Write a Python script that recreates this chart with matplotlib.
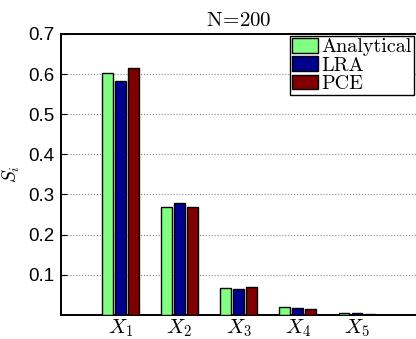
import numpy as np
from matplotlib import pyplot as plt

# Sobol' index estimates per input variable
variables = [r'$X_1$', r'$X_2$', r'$X_3$', r'$X_4$', r'$X_5$']
analytical = [0.602, 0.268, 0.066, 0.020, 0.005]
lra = [0.582, 0.279, 0.065, 0.017, 0.006]
pce = [0.614, 0.270, 0.069, 0.016, 0.003]
y_ticks = [0.1, 0.2, 0.3, 0.4, 0.5, 0.6, 0.7]

plt.rcParams['mathtext.fontset'] = 'cm'
plt.rcParams['font.family'] = ['Liberation Sans', 'DejaVu Sans']

fig = plt.figure(figsize=(4.16, 3.39), dpi=100)
ax = fig.add_axes([0.147, 0.071, 0.853, 0.829])

x = np.arange(1, len(variables) + 1)
width = 0.18
step = 0.22
series = [(analytical, '#80ff80', 'Analytical'),
          (lra, '#00008f', 'LRA'),
          (pce, '#800000', 'PCE')]
for i, (vals, col, name) in enumerate(series):
    ax.bar(x + (i - 1) * step, vals, width, color=col, edgecolor='black',
           linewidth=1.0, label=name, zorder=3)

ax.set_xlim(0, 6)
ax.set_ylim(0, 0.7)
ax.set_xticks(x)
ax.set_xticklabels(variables, fontsize=15)
ax.set_yticks(y_ticks)
ax.set_yticklabels(['%.1f' % v for v in y_ticks], fontsize=13.5)
ax.tick_params(direction='in', top=True, right=False, length=4, pad=5)
ax.tick_params(axis='x', length=0, pad=2)
ax.yaxis.grid(True, linestyle=':', color='#888888', linewidth=0.8)
ax.set_axisbelow(True)
ax.spines['right'].set_visible(False)
for s in ['left', 'top', 'bottom']:
    ax.spines[s].set_linewidth(1.4)

ax.set_ylabel(r'$S_i$', fontsize=14, labelpad=4)
ax.set_title(r'$\mathrm{N\!=\!200}$', fontsize=15, pad=6)

leg = ax.legend(loc='upper right', prop={'family': 'cmr10', 'size': 14.5},
                fancybox=False, edgecolor='black', framealpha=1,
                borderpad=0.1, labelspacing=0.0, handlelength=1.25,
                handleheight=0.75, handletextpad=0.2, borderaxespad=0.1)
leg.get_frame().set_linewidth(1.0)

plt.savefig('out.png', dpi=100)
